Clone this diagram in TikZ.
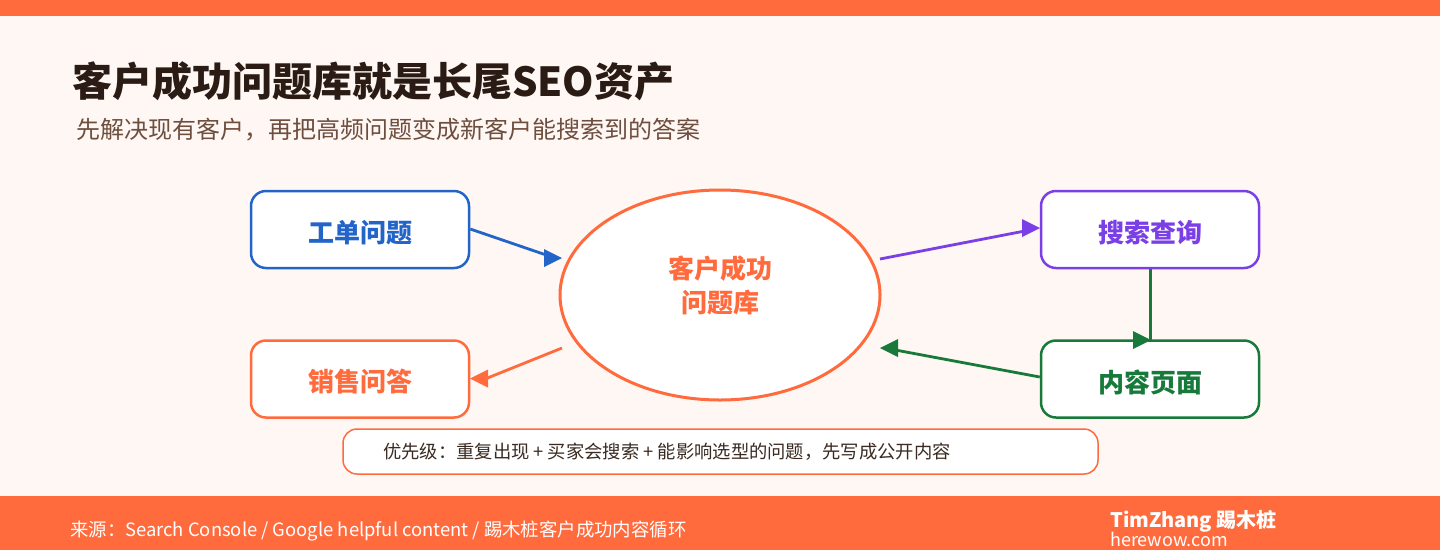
\documentclass[tikz,border=0pt]{standalone}
\usepackage{fontspec}
\setmainfont{Noto Sans CJK SC}
\usetikzlibrary{shapes.geometric}
\definecolor{accent}{HTML}{FF6B3D}
\definecolor{bgc}{HTML}{FFF7F3}
\definecolor{blu}{HTML}{2264C8}
\definecolor{pur}{HTML}{7B3FE6}
\definecolor{grn}{HTML}{177A3B}
\definecolor{ttl}{HTML}{2A1B14}
\definecolor{sub}{HTML}{6E4E3E}
\definecolor{notec}{HTML}{3A2A22}
\tikzset{
  flowbox/.style={draw=#1, line width=2.5pt, fill=white, rounded corners=15pt,
    minimum width=218pt, minimum height=77pt, inner sep=0pt},
  boxtext/.style={text=#1, inner sep=0pt, font=\fontsize{26}{30}\selectfont\bfseries},
  link/.style={line width=2.8pt, draw=#1},
}
\newcommand{\tipR}[3]{\fill[#3] (#1,#2) -- ++(-18,-9) -- ++(0,18) -- cycle;}
\newcommand{\tipL}[3]{\fill[#3] (#1,#2) -- ++(18,-9) -- ++(0,18) -- cycle;}
\begin{document}
\begin{tikzpicture}[x=1pt,y=-1pt]
\useasboundingbox (0,0) rectangle (1440,550);
\fill[bgc] (0,0) rectangle (1440,550);
\fill[accent] (0,0) rectangle (1440,16);
\fill[accent] (0,496) rectangle (1440,550);

\node[anchor=base west, inner sep=0pt, text=ttl, font=\fontsize{40}{46}\selectfont\bfseries] (title) at (72,96) {客户成功问题库就是长尾SEO资产};
\node[anchor=base west, inner sep=0pt, text=sub, font=\fontsize{24}{28}\selectfont] (subtitle) at (76,138) {先解决现有客户，再把高频问题变成新客户能搜索到的答案};

\node[flowbox=blu] (gd) at (360,229.5) {};
\node[boxtext=blu] (gdt) at (360,232.5) {工单问题};
\node[flowbox=accent] (xs) at (360,379) {};
\node[boxtext=accent] (xst) at (360,382) {销售问答};
\node[flowbox=pur] (ss) at (1150,229.5) {};
\node[boxtext=pur] (sst) at (1150,232.5) {搜索查询};
\node[flowbox=grn] (nr) at (1150,379) {};
\node[boxtext=grn] (nrt) at (1150,382) {内容页面};

\node[ellipse, draw=accent, line width=3pt, fill=white, minimum width=320pt, minimum height=210pt, inner sep=0pt] (lib) at (720,295) {};
\node[text=accent, font=\fontsize{26}{34}\selectfont\bfseries, align=center, inner sep=0pt] (libtext) at (720,285) {客户成功\\问题库};

% connectors
\coordinate (a1) at (555,258);
\coordinate (a2) at (480,381);
\coordinate (a3) at (1030,230);
\coordinate (a4) at (890,349);
\coordinate (a5) at (1150.5,340);
\coordinate (s2) at (562,348);
\coordinate (s3) at (880,259);
\draw[link=blu] (gd.east |- 0,229) -- (a1);
\tipR{562}{258}{blu}
\draw[link=accent] (s2) -- (a2);
\tipL{470}{378.5}{accent}
\draw[link=pur] (s3) -- (a3);
\tipR{1040}{228}{pur}
\draw[link=grn] (nr.west |- 0,377) -- (a4);
\tipL{880}{348}{grn}
\draw[link=grn] (ss.south -| a5) -- (a5);
\tipR{1151}{340}{grn}

\node[draw=accent, line width=1.5pt, fill=white, rounded corners=14pt, minimum width=755pt, minimum height=45pt] (note) at (720.5,451.5) {};
\node[anchor=west, inner sep=0pt, text=notec, font=\fontsize{18.3}{21}\selectfont] (notetext) at (383,452) {优先级：重复出现 + 买家会搜索 + 能影响选型的问题，先写成公开内容};

\node[anchor=west, inner sep=0pt, text=white, font=\fontsize{18.4}{21}\selectfont] (src) at (70,531) {来源：Search Console / Google helpful content / 踢木桩客户成功内容循环};
\node[anchor=west, inner sep=0pt, text=white, font=\fontsize{20}{22}\selectfont\bfseries] (brand) at (1110,521) {TimZhang 踢木桩};
\node[anchor=west, inner sep=0pt, text=white, font=\fontsize{18}{20}\selectfont] (site) at (1110,539) {herewow.com};
\end{tikzpicture}
\end{document}
